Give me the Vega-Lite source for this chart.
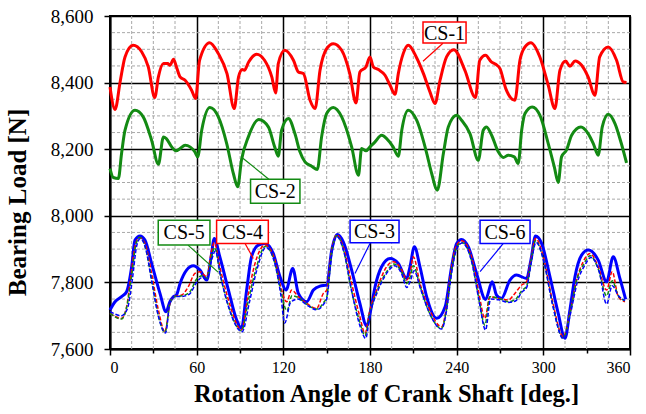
{
  "$schema": "https://vega.github.io/schema/vega-lite/v6.json",
  "width": 520,
  "height": 333,
  "autosize": "none",
  "padding": {"left": 110, "top": 16, "right": 16, "bottom": 65},
  "background": "white",
  "config": {
    "view": {"stroke": "black", "strokeWidth": 2},
    "font": "Liberation Serif"
  },
  "datasets": {
    "gridx": [{"g":15},{"g":30},{"g":45},{"g":75},{"g":90},{"g":105},{"g":135},{"g":150},{"g":165},{"g":195},{"g":210},{"g":225},{"g":255},{"g":270},{"g":285},{"g":315},{"g":330},{"g":345}],
    "gridy": [{"g":7650},{"g":7700},{"g":7750},{"g":7850},{"g":7900},{"g":7950},{"g":8050},{"g":8100},{"g":8150},{"g":8250},{"g":8300},{"g":8350},{"g":8450},{"g":8500},{"g":8550}],
    "curves": [
      {"s":"CS-1","x":0,"y":8387},{"s":"CS-1","x":3.5,"y":8319},{"s":"CS-1","x":7,"y":8402},{"s":"CS-1","x":10.4,"y":8477},{"s":"CS-1","x":16,"y":8512},{"s":"CS-1","x":22,"y":8492},{"s":"CS-1","x":26.5,"y":8447},{"s":"CS-1","x":31,"y":8355},{"s":"CS-1","x":33.5,"y":8417},{"s":"CS-1","x":37,"y":8457},{"s":"CS-1","x":40,"y":8457},{"s":"CS-1","x":41.5,"y":8452},{"s":"CS-1","x":44,"y":8470},{"s":"CS-1","x":46,"y":8447},{"s":"CS-1","x":48.5,"y":8417},{"s":"CS-1","x":52,"y":8407},{"s":"CS-1","x":56.5,"y":8377},{"s":"CS-1","x":59.3,"y":8352},{"s":"CS-1","x":62,"y":8467},{"s":"CS-1","x":69,"y":8520},{"s":"CS-1","x":75,"y":8487},{"s":"CS-1","x":81,"y":8427},{"s":"CS-1","x":86,"y":8322},{"s":"CS-1","x":89,"y":8417},{"s":"CS-1","x":91.6,"y":8439},{"s":"CS-1","x":93,"y":8437},{"s":"CS-1","x":96,"y":8462},{"s":"CS-1","x":101.5,"y":8485},{"s":"CS-1","x":107,"y":8467},{"s":"CS-1","x":112,"y":8417},{"s":"CS-1","x":114.7,"y":8369},{"s":"CS-1","x":116.5,"y":8457},{"s":"CS-1","x":121,"y":8497},{"s":"CS-1","x":127,"y":8467},{"s":"CS-1","x":130.4,"y":8432},{"s":"CS-1","x":133.9,"y":8427},{"s":"CS-1","x":138.5,"y":8347},{"s":"CS-1","x":142,"y":8322},{"s":"CS-1","x":145.4,"y":8437},{"s":"CS-1","x":150,"y":8502},{"s":"CS-1","x":154.6,"y":8517},{"s":"CS-1","x":160.4,"y":8497},{"s":"CS-1","x":166,"y":8427},{"s":"CS-1","x":170.3,"y":8339},{"s":"CS-1","x":173,"y":8432},{"s":"CS-1","x":177.2,"y":8447},{"s":"CS-1","x":180,"y":8477},{"s":"CS-1","x":182.3,"y":8447},{"s":"CS-1","x":185.8,"y":8439},{"s":"CS-1","x":190.4,"y":8422},{"s":"CS-1","x":193.9,"y":8392},{"s":"CS-1","x":197.3,"y":8365},{"s":"CS-1","x":199.6,"y":8427},{"s":"CS-1","x":203,"y":8487},{"s":"CS-1","x":206.5,"y":8512},{"s":"CS-1","x":212,"y":8477},{"s":"CS-1","x":217,"y":8427},{"s":"CS-1","x":221.5,"y":8372},{"s":"CS-1","x":225,"y":8337},{"s":"CS-1","x":228.5,"y":8407},{"s":"CS-1","x":233,"y":8477},{"s":"CS-1","x":238,"y":8499},{"s":"CS-1","x":245.7,"y":8437},{"s":"CS-1","x":253,"y":8355},{"s":"CS-1","x":256,"y":8467},{"s":"CS-1","x":260,"y":8482},{"s":"CS-1","x":264,"y":8462},{"s":"CS-1","x":267,"y":8455},{"s":"CS-1","x":270,"y":8442},{"s":"CS-1","x":274,"y":8382},{"s":"CS-1","x":280.3,"y":8347},{"s":"CS-1","x":283.8,"y":8467},{"s":"CS-1","x":287.3,"y":8507},{"s":"CS-1","x":291.4,"y":8520},{"s":"CS-1","x":297.6,"y":8477},{"s":"CS-1","x":303.4,"y":8392},{"s":"CS-1","x":308,"y":8322},{"s":"CS-1","x":311.5,"y":8437},{"s":"CS-1","x":315.4,"y":8465},{"s":"CS-1","x":318.4,"y":8449},{"s":"CS-1","x":322,"y":8465},{"s":"CS-1","x":326.5,"y":8452},{"s":"CS-1","x":331,"y":8417},{"s":"CS-1","x":335.7,"y":8362},{"s":"CS-1","x":339,"y":8477},{"s":"CS-1","x":345,"y":8507},{"s":"CS-1","x":350.7,"y":8467},{"s":"CS-1","x":355.3,"y":8402},{"s":"CS-1","x":357.6,"y":8400},

      {"s":"CS-2","x":0,"y":8142},{"s":"CS-2","x":2.3,"y":8115},{"s":"CS-2","x":5.8,"y":8112},{"s":"CS-2","x":8,"y":8187},{"s":"CS-2","x":10.4,"y":8257},{"s":"CS-2","x":17.3,"y":8317},{"s":"CS-2","x":23,"y":8297},{"s":"CS-2","x":28.8,"y":8227},{"s":"CS-2","x":33.5,"y":8155},{"s":"CS-2","x":37,"y":8237},{"s":"CS-2","x":39,"y":8232},{"s":"CS-2","x":42.7,"y":8207},{"s":"CS-2","x":45.7,"y":8195},{"s":"CS-2","x":48.5,"y":8202},{"s":"CS-2","x":52,"y":8212},{"s":"CS-2","x":55.4,"y":8207},{"s":"CS-2","x":58.8,"y":8192},{"s":"CS-2","x":60.7,"y":8177},{"s":"CS-2","x":63.5,"y":8257},{"s":"CS-2","x":69.2,"y":8325},{"s":"CS-2","x":75,"y":8297},{"s":"CS-2","x":80.8,"y":8217},{"s":"CS-2","x":85.4,"y":8127},{"s":"CS-2","x":88.4,"y":8087},{"s":"CS-2","x":91,"y":8167},{"s":"CS-2","x":95.8,"y":8237},{"s":"CS-2","x":103,"y":8289},{"s":"CS-2","x":109.6,"y":8267},{"s":"CS-2","x":114,"y":8207},{"s":"CS-2","x":116.5,"y":8179},{"s":"CS-2","x":118.8,"y":8257},{"s":"CS-2","x":123.5,"y":8292},{"s":"CS-2","x":128,"y":8247},{"s":"CS-2","x":131.5,"y":8192},{"s":"CS-2","x":135,"y":8162},{"s":"CS-2","x":139.6,"y":8149},{"s":"CS-2","x":143.5,"y":8139},{"s":"CS-2","x":146.5,"y":8237},{"s":"CS-2","x":150,"y":8307},{"s":"CS-2","x":154.6,"y":8325},{"s":"CS-2","x":160.4,"y":8297},{"s":"CS-2","x":167.3,"y":8207},{"s":"CS-2","x":172,"y":8122},{"s":"CS-2","x":174.2,"y":8202},{"s":"CS-2","x":177.2,"y":8195},{"s":"CS-2","x":180,"y":8207},{"s":"CS-2","x":183.5,"y":8222},{"s":"CS-2","x":188,"y":8242},{"s":"CS-2","x":191.5,"y":8232},{"s":"CS-2","x":196,"y":8207},{"s":"CS-2","x":199.6,"y":8179},{"s":"CS-2","x":202,"y":8257},{"s":"CS-2","x":206.5,"y":8317},{"s":"CS-2","x":212.3,"y":8287},{"s":"CS-2","x":219.3,"y":8187},{"s":"CS-2","x":222.7,"y":8127},{"s":"CS-2","x":226.6,"y":8077},{"s":"CS-2","x":230.8,"y":8187},{"s":"CS-2","x":234.2,"y":8267},{"s":"CS-2","x":240,"y":8302},{"s":"CS-2","x":243.4,"y":8287},{"s":"CS-2","x":249.2,"y":8247},{"s":"CS-2","x":255,"y":8167},{"s":"CS-2","x":258.4,"y":8257},{"s":"CS-2","x":260.7,"y":8267},{"s":"CS-2","x":264.2,"y":8242},{"s":"CS-2","x":268.8,"y":8192},{"s":"CS-2","x":272.3,"y":8175},{"s":"CS-2","x":275.7,"y":8182},{"s":"CS-2","x":279.9,"y":8177},{"s":"CS-2","x":282.6,"y":8157},{"s":"CS-2","x":285,"y":8257},{"s":"CS-2","x":287.3,"y":8307},{"s":"CS-2","x":292.3,"y":8327},{"s":"CS-2","x":297.6,"y":8302},{"s":"CS-2","x":303.4,"y":8217},{"s":"CS-2","x":307.6,"y":8147},{"s":"CS-2","x":310.3,"y":8100},{"s":"CS-2","x":312.6,"y":8177},{"s":"CS-2","x":316,"y":8197},{"s":"CS-2","x":319.6,"y":8242},{"s":"CS-2","x":326,"y":8267},{"s":"CS-2","x":331,"y":8247},{"s":"CS-2","x":334.6,"y":8217},{"s":"CS-2","x":338,"y":8182},{"s":"CS-2","x":340.8,"y":8267},{"s":"CS-2","x":345,"y":8305},{"s":"CS-2","x":349.6,"y":8277},{"s":"CS-2","x":354,"y":8217},{"s":"CS-2","x":357.6,"y":8159},

      {"s":"CS-3","x":0,"y":7717},{"s":"CS-3","x":3.5,"y":7742},{"s":"CS-3","x":8,"y":7757},{"s":"CS-3","x":11.5,"y":7772},{"s":"CS-3","x":15,"y":7847},{"s":"CS-3","x":17.3,"y":7927},{"s":"CS-3","x":20.8,"y":7939},{"s":"CS-3","x":24.2,"y":7927},{"s":"CS-3","x":28.8,"y":7857},{"s":"CS-3","x":34.6,"y":7767},{"s":"CS-3","x":38.8,"y":7712},{"s":"CS-3","x":41.5,"y":7742},{"s":"CS-3","x":43.8,"y":7757},{"s":"CS-3","x":46,"y":7762},{"s":"CS-3","x":48.5,"y":7797},{"s":"CS-3","x":53,"y":7837},{"s":"CS-3","x":57.7,"y":7850},{"s":"CS-3","x":62.3,"y":7837},{"s":"CS-3","x":67,"y":7807},{"s":"CS-3","x":70,"y":7877},{"s":"CS-3","x":72.2,"y":7932},{"s":"CS-3","x":76,"y":7877},{"s":"CS-3","x":82,"y":7777},{"s":"CS-3","x":87.7,"y":7687},{"s":"CS-3","x":91,"y":7662},{"s":"CS-3","x":94.6,"y":7777},{"s":"CS-3","x":98,"y":7877},{"s":"CS-3","x":102.7,"y":7912},{"s":"CS-3","x":107.3,"y":7917},{"s":"CS-3","x":113,"y":7887},{"s":"CS-3","x":117.7,"y":7817},{"s":"CS-3","x":121.9,"y":7777},{"s":"CS-3","x":126.5,"y":7842},{"s":"CS-3","x":130.4,"y":7767},{"s":"CS-3","x":136.2,"y":7742},{"s":"CS-3","x":140.8,"y":7777},{"s":"CS-3","x":145.4,"y":7789},{"s":"CS-3","x":150,"y":7792},{"s":"CS-3","x":153.5,"y":7897},{"s":"CS-3","x":157.4,"y":7944},{"s":"CS-3","x":161.5,"y":7922},{"s":"CS-3","x":167.3,"y":7837},{"s":"CS-3","x":173,"y":7737},{"s":"CS-3","x":177.7,"y":7669},{"s":"CS-3","x":180.5,"y":7717},{"s":"CS-3","x":183.5,"y":7787},{"s":"CS-3","x":188,"y":7847},{"s":"CS-3","x":193.9,"y":7872},{"s":"CS-3","x":199.6,"y":7857},{"s":"CS-3","x":205.4,"y":7812},{"s":"CS-3","x":207.7,"y":7847},{"s":"CS-3","x":210.7,"y":7907},{"s":"CS-3","x":214.6,"y":7847},{"s":"CS-3","x":219.2,"y":7757},{"s":"CS-3","x":226.2,"y":7692},{"s":"CS-3","x":232,"y":7727},{"s":"CS-3","x":236.5,"y":7847},{"s":"CS-3","x":240,"y":7917},{"s":"CS-3","x":243.4,"y":7929},{"s":"CS-3","x":248,"y":7907},{"s":"CS-3","x":253.8,"y":7827},{"s":"CS-3","x":260,"y":7749},{"s":"CS-3","x":264.6,"y":7802},{"s":"CS-3","x":267.6,"y":7762},{"s":"CS-3","x":271,"y":7752},{"s":"CS-3","x":276.9,"y":7807},{"s":"CS-3","x":281.5,"y":7822},{"s":"CS-3","x":288.4,"y":7812},{"s":"CS-3","x":291.4,"y":7867},{"s":"CS-3","x":294.6,"y":7939},{"s":"CS-3","x":298.8,"y":7917},{"s":"CS-3","x":304.6,"y":7817},{"s":"CS-3","x":310.3,"y":7707},{"s":"CS-3","x":315,"y":7632},{"s":"CS-3","x":318.4,"y":7717},{"s":"CS-3","x":321.9,"y":7817},{"s":"CS-3","x":326.5,"y":7882},{"s":"CS-3","x":331.1,"y":7897},{"s":"CS-3","x":338,"y":7867},{"s":"CS-3","x":343.8,"y":7802},{"s":"CS-3","x":348.4,"y":7877},{"s":"CS-3","x":353,"y":7812},{"s":"CS-3","x":357,"y":7749},

      {"s":"CS-4","x":0,"y":7707},{"s":"CS-4","x":8,"y":7692},{"s":"CS-4","x":11.5,"y":7727},{"s":"CS-4","x":13.8,"y":7797},{"s":"CS-4","x":17.3,"y":7907},{"s":"CS-4","x":20.3,"y":7935},{"s":"CS-4","x":24.2,"y":7917},{"s":"CS-4","x":28.8,"y":7827},{"s":"CS-4","x":33.5,"y":7717},{"s":"CS-4","x":38,"y":7652},{"s":"CS-4","x":41.5,"y":7737},{"s":"CS-4","x":43.8,"y":7757},{"s":"CS-4","x":49.6,"y":7762},{"s":"CS-4","x":54.2,"y":7787},{"s":"CS-4","x":58.8,"y":7827},{"s":"CS-4","x":62.3,"y":7832},{"s":"CS-4","x":67,"y":7817},{"s":"CS-4","x":70.4,"y":7897},{"s":"CS-4","x":72.2,"y":7919},{"s":"CS-4","x":76,"y":7847},{"s":"CS-4","x":82,"y":7747},{"s":"CS-4","x":91,"y":7657},{"s":"CS-4","x":95.8,"y":7767},{"s":"CS-4","x":100.4,"y":7857},{"s":"CS-4","x":107.3,"y":7912},{"s":"CS-4","x":114.2,"y":7867},{"s":"CS-4","x":118,"y":7790},{"s":"CS-4","x":122.3,"y":7742},{"s":"CS-4","x":125.8,"y":7777},{"s":"CS-4","x":130.4,"y":7757},{"s":"CS-4","x":136.2,"y":7737},{"s":"CS-4","x":143,"y":7722},{"s":"CS-4","x":147.7,"y":7767},{"s":"CS-4","x":150,"y":7777},{"s":"CS-4","x":153.5,"y":7897},{"s":"CS-4","x":157,"y":7942},{"s":"CS-4","x":161.5,"y":7907},{"s":"CS-4","x":167.3,"y":7797},{"s":"CS-4","x":173,"y":7697},{"s":"CS-4","x":176.5,"y":7647},{"s":"CS-4","x":180,"y":7717},{"s":"CS-4","x":184.6,"y":7777},{"s":"CS-4","x":191.5,"y":7847},{"s":"CS-4","x":196.2,"y":7862},{"s":"CS-4","x":202,"y":7837},{"s":"CS-4","x":205.4,"y":7807},{"s":"CS-4","x":207.7,"y":7827},{"s":"CS-4","x":210,"y":7877},{"s":"CS-4","x":214.6,"y":7797},{"s":"CS-4","x":220.4,"y":7727},{"s":"CS-4","x":229.6,"y":7667},{"s":"CS-4","x":233,"y":7727},{"s":"CS-4","x":236.5,"y":7847},{"s":"CS-4","x":240,"y":7912},{"s":"CS-4","x":243.4,"y":7925},{"s":"CS-4","x":250.3,"y":7877},{"s":"CS-4","x":255,"y":7777},{"s":"CS-4","x":259.6,"y":7692},{"s":"CS-4","x":263,"y":7757},{"s":"CS-4","x":268.8,"y":7752},{"s":"CS-4","x":275.7,"y":7747},{"s":"CS-4","x":280.3,"y":7767},{"s":"CS-4","x":285,"y":7792},{"s":"CS-4","x":288.4,"y":7802},{"s":"CS-4","x":291.4,"y":7867},{"s":"CS-4","x":294.6,"y":7932},{"s":"CS-4","x":300,"y":7877},{"s":"CS-4","x":305.7,"y":7757},{"s":"CS-4","x":313.8,"y":7637},{"s":"CS-4","x":318.4,"y":7707},{"s":"CS-4","x":323,"y":7807},{"s":"CS-4","x":327.6,"y":7862},{"s":"CS-4","x":332.3,"y":7887},{"s":"CS-4","x":338,"y":7847},{"s":"CS-4","x":343.8,"y":7777},{"s":"CS-4","x":347.7,"y":7832},{"s":"CS-4","x":351.9,"y":7757},{"s":"CS-4","x":356.5,"y":7742},

      {"s":"CS-5","x":0,"y":7707},{"s":"CS-5","x":8,"y":7690},{"s":"CS-5","x":11.5,"y":7725},{"s":"CS-5","x":15,"y":7820},{"s":"CS-5","x":18,"y":7915},{"s":"CS-5","x":20.5,"y":7935},{"s":"CS-5","x":24,"y":7912},{"s":"CS-5","x":28.8,"y":7810},{"s":"CS-5","x":33.5,"y":7700},{"s":"CS-5","x":38,"y":7650},{"s":"CS-5","x":41.5,"y":7737},{"s":"CS-5","x":44,"y":7757},{"s":"CS-5","x":50,"y":7760},{"s":"CS-5","x":55,"y":7770},{"s":"CS-5","x":60,"y":7810},{"s":"CS-5","x":64,"y":7820},{"s":"CS-5","x":67,"y":7812},{"s":"CS-5","x":70.4,"y":7880},{"s":"CS-5","x":72.5,"y":7905},{"s":"CS-5","x":76,"y":7830},{"s":"CS-5","x":82,"y":7730},{"s":"CS-5","x":91,"y":7655},{"s":"CS-5","x":96,"y":7750},{"s":"CS-5","x":101,"y":7840},{"s":"CS-5","x":107.5,"y":7908},{"s":"CS-5","x":114,"y":7860},{"s":"CS-5","x":118,"y":7780},{"s":"CS-5","x":122.5,"y":7715},{"s":"CS-5","x":126,"y":7760},{"s":"CS-5","x":130,"y":7755},{"s":"CS-5","x":136,"y":7735},{"s":"CS-5","x":143,"y":7720},{"s":"CS-5","x":148,"y":7740},{"s":"CS-5","x":150,"y":7755},{"s":"CS-5","x":153.5,"y":7890},{"s":"CS-5","x":157,"y":7940},{"s":"CS-5","x":161.5,"y":7900},{"s":"CS-5","x":167,"y":7780},{"s":"CS-5","x":173,"y":7680},{"s":"CS-5","x":176.5,"y":7640},{"s":"CS-5","x":180,"y":7710},{"s":"CS-5","x":185,"y":7775},{"s":"CS-5","x":192,"y":7835},{"s":"CS-5","x":196.5,"y":7855},{"s":"CS-5","x":202,"y":7830},{"s":"CS-5","x":205.5,"y":7797},{"s":"CS-5","x":207.7,"y":7815},{"s":"CS-5","x":210,"y":7850},{"s":"CS-5","x":214.6,"y":7790},{"s":"CS-5","x":220,"y":7720},{"s":"CS-5","x":229.6,"y":7662},{"s":"CS-5","x":233,"y":7720},{"s":"CS-5","x":236.5,"y":7835},{"s":"CS-5","x":240,"y":7905},{"s":"CS-5","x":243.5,"y":7920},{"s":"CS-5","x":250,"y":7870},{"s":"CS-5","x":255,"y":7760},{"s":"CS-5","x":259.6,"y":7672},{"s":"CS-5","x":263,"y":7757},{"s":"CS-5","x":269,"y":7752},{"s":"CS-5","x":276,"y":7742},{"s":"CS-5","x":281,"y":7750},{"s":"CS-5","x":285,"y":7775},{"s":"CS-5","x":288.5,"y":7790},{"s":"CS-5","x":291.4,"y":7860},{"s":"CS-5","x":294.6,"y":7925},{"s":"CS-5","x":300,"y":7870},{"s":"CS-5","x":305.7,"y":7750},{"s":"CS-5","x":313.8,"y":7632},{"s":"CS-5","x":318.4,"y":7705},{"s":"CS-5","x":323,"y":7805},{"s":"CS-5","x":328,"y":7855},{"s":"CS-5","x":332.5,"y":7880},{"s":"CS-5","x":338,"y":7840},{"s":"CS-5","x":343.8,"y":7760},{"s":"CS-5","x":347.7,"y":7805},{"s":"CS-5","x":351.9,"y":7760},{"s":"CS-5","x":356.5,"y":7745},

      {"s":"CS-6","x":0,"y":7712},{"s":"CS-6","x":8,"y":7700},{"s":"CS-6","x":12,"y":7720},{"s":"CS-6","x":15.5,"y":7810},{"s":"CS-6","x":18.5,"y":7910},{"s":"CS-6","x":21,"y":7932},{"s":"CS-6","x":24.5,"y":7905},{"s":"CS-6","x":29,"y":7800},{"s":"CS-6","x":34,"y":7690},{"s":"CS-6","x":38.5,"y":7648},{"s":"CS-6","x":41.5,"y":7740},{"s":"CS-6","x":44,"y":7757},{"s":"CS-6","x":50,"y":7758},{"s":"CS-6","x":55,"y":7765},{"s":"CS-6","x":60,"y":7800},{"s":"CS-6","x":64,"y":7815},{"s":"CS-6","x":67,"y":7810},{"s":"CS-6","x":70.5,"y":7870},{"s":"CS-6","x":73,"y":7895},{"s":"CS-6","x":76.5,"y":7820},{"s":"CS-6","x":82.5,"y":7720},{"s":"CS-6","x":91.5,"y":7652},{"s":"CS-6","x":96.5,"y":7740},{"s":"CS-6","x":101.5,"y":7835},{"s":"CS-6","x":108,"y":7905},{"s":"CS-6","x":114.5,"y":7850},{"s":"CS-6","x":118,"y":7770},{"s":"CS-6","x":121,"y":7678},{"s":"CS-6","x":125,"y":7740},{"s":"CS-6","x":130,"y":7750},{"s":"CS-6","x":136,"y":7733},{"s":"CS-6","x":143,"y":7718},{"s":"CS-6","x":148,"y":7735},{"s":"CS-6","x":150,"y":7750},{"s":"CS-6","x":153.5,"y":7885},{"s":"CS-6","x":157,"y":7938},{"s":"CS-6","x":162,"y":7890},{"s":"CS-6","x":167.5,"y":7770},{"s":"CS-6","x":173,"y":7670},{"s":"CS-6","x":177,"y":7632},{"s":"CS-6","x":180,"y":7705},{"s":"CS-6","x":185,"y":7770},{"s":"CS-6","x":192,"y":7830},{"s":"CS-6","x":197,"y":7850},{"s":"CS-6","x":202,"y":7825},{"s":"CS-6","x":205.4,"y":7785},{"s":"CS-6","x":208,"y":7805},{"s":"CS-6","x":210.5,"y":7835},{"s":"CS-6","x":215,"y":7780},{"s":"CS-6","x":220.5,"y":7715},{"s":"CS-6","x":229.6,"y":7660},{"s":"CS-6","x":233,"y":7715},{"s":"CS-6","x":236.5,"y":7830},{"s":"CS-6","x":240,"y":7900},{"s":"CS-6","x":243.8,"y":7918},{"s":"CS-6","x":250.5,"y":7860},{"s":"CS-6","x":255.5,"y":7745},{"s":"CS-6","x":260,"y":7657},{"s":"CS-6","x":263.5,"y":7750},{"s":"CS-6","x":269,"y":7748},{"s":"CS-6","x":276,"y":7740},{"s":"CS-6","x":281,"y":7745},{"s":"CS-6","x":285,"y":7770},{"s":"CS-6","x":288.5,"y":7785},{"s":"CS-6","x":291.4,"y":7855},{"s":"CS-6","x":295,"y":7920},{"s":"CS-6","x":300.5,"y":7860},{"s":"CS-6","x":306,"y":7740},{"s":"CS-6","x":314,"y":7630},{"s":"CS-6","x":318.5,"y":7700},{"s":"CS-6","x":323.5,"y":7800},{"s":"CS-6","x":328.5,"y":7850},{"s":"CS-6","x":333,"y":7875},{"s":"CS-6","x":338.5,"y":7835},{"s":"CS-6","x":343.8,"y":7735},{"s":"CS-6","x":347.7,"y":7790},{"s":"CS-6","x":352,"y":7760},{"s":"CS-6","x":356.5,"y":7745}
    ],
    "leaders": [
      {"s":"CS-1","x":230.5,"y":8518,"x2":216.7,"y2":8464},
      {"s":"CS-2","x":92,"y":8173,"x2":110.8,"y2":8107},
      {"s":"CS-5","x":54,"y":7912,"x2":74.8,"y2":7831},
      {"s":"CS-4","x":93.5,"y":7917,"x2":99.2,"y2":7872},
      {"s":"CS-3","x":180,"y":7917,"x2":169.6,"y2":7827},
      {"s":"CS-6","x":272.3,"y":7917,"x2":256.2,"y2":7832}
    ],
    "boxes": [
      {"s":"CS-1","x":216.7,"x2":246.5,"y":8582,"y2":8519,"tx":231.6,"ty":8550},
      {"s":"CS-2","x":97.3,"x2":131.5,"y":8110,"y2":8038,"tx":114.4,"ty":8074},
      {"s":"CS-5","x":33.4,"x2":69.2,"y":7987,"y2":7912,"tx":51.3,"ty":7950},
      {"s":"CS-4","x":73.8,"x2":109.6,"y":7987,"y2":7917,"tx":91.7,"ty":7952},
      {"s":"CS-3","x":166.2,"x2":200.1,"y":7987,"y2":7919,"tx":183.1,"ty":7953},
      {"s":"CS-6","x":256.2,"x2":290.8,"y":7987,"y2":7917,"tx":273.5,"ty":7952}
    ]
  },
  "layer": [
    {
      "data": {"name": "gridx"},
      "mark": {"type": "rule", "color": "#a8a8a8", "strokeWidth": 1, "strokeDash": [3, 2]},
      "encoding": {
        "x": {
          "field": "g", "type": "quantitative",
          "scale": {"domain": [0, 360], "nice": false, "zero": false},
          "axis": {
            "values": [0,15,30,45,60,75,90,105,120,135,150,165,180,195,210,225,240,255,270,285,300,315,330,345,360],
            "labelExpr": "datum.value % 60 === 0 ? datum.label : ''",
            "labelOverlap": false,
            "labelFont": "Liberation Serif", "labelFontSize": 16, "labelColor": "black", "labelPadding": 4,
            "grid": true,
            "gridColor": "#000000",
            "gridWidth": 1.5,
            "gridOpacity": {"condition": {"test": "datum.value % 60 === 0", "value": 1}, "value": 0},
            "tickColor": "black", "tickWidth": 1.5,
            "tickSize": {"condition": {"test": "datum.value % 60 === 0", "value": 6}, "value": 4},
            "domainColor": "black", "domainWidth": 2,
            "title": "Rotation Angle of Crank Shaft [deg.]",
            "titleFont": "Liberation Serif", "titleFontSize": 24.5, "titleFontWeight": "bold", "titleColor": "black", "titlePadding": 7,
            "titleX": 276
          }
        }
      }
    },
    {
      "data": {"name": "gridy"},
      "mark": {"type": "rule", "color": "#a8a8a8", "strokeWidth": 1, "strokeDash": [3, 2]},
      "encoding": {
        "y": {
          "field": "g", "type": "quantitative",
          "scale": {"domain": [7600, 8600], "nice": false, "zero": false},
          "axis": {
            "values": [7600,7650,7700,7750,7800,7850,7900,7950,8000,8050,8100,8150,8200,8250,8300,8350,8400,8450,8500,8550,8600],
            "format": ",d",
            "labelExpr": "datum.value % 200 === 0 ? datum.label : ''",
            "labelOverlap": false,
            "labelFont": "Liberation Serif", "labelFontSize": 19, "labelColor": "black", "labelPadding": 11,
            "grid": true,
            "gridColor": "#000000",
            "gridWidth": 1.5,
            "gridOpacity": {"condition": {"test": "datum.value % 200 === 0", "value": 1}, "value": 0},
            "tickColor": "black", "tickWidth": 1.5,
            "tickSize": {"condition": {"test": "datum.value % 200 === 0", "value": 6}, "value": 4},
            "domainColor": "black", "domainWidth": 2,
            "title": "Bearing Load [N]",
            "titleFont": "Liberation Serif", "titleFontSize": 25, "titleFontWeight": "bold", "titleColor": "black", "titlePadding": 20,
            "titleY": 186
          }
        }
      }
    },
    {
      "data": {"name": "curves"},
      "transform": [{"filter": "datum.s === 'CS-1' || datum.s === 'CS-2' || datum.s === 'CS-3'"}],
      "mark": {"type": "line", "interpolate": "monotone", "strokeWidth": 3, "strokeJoin": "round"},
      "encoding": {
        "x": {"field": "x", "type": "quantitative"},
        "y": {"field": "y", "type": "quantitative"},
        "color": {
          "field": "s", "type": "nominal",
          "scale": {"domain": ["CS-1","CS-2","CS-3","CS-4","CS-5","CS-6"], "range": ["#ff0000","#138a13","#0000ff","#ff0000","#138a13","#0000ff"]},
          "legend": null
        }
      }
    },
    {
      "data": {"name": "curves"},
      "transform": [{"filter": "datum.s === 'CS-4' || datum.s === 'CS-5' || datum.s === 'CS-6'"}],
      "mark": {"type": "line", "interpolate": "monotone", "strokeWidth": 1.5, "strokeDash": [4, 2]},
      "encoding": {
        "x": {"field": "x", "type": "quantitative"},
        "y": {"field": "y", "type": "quantitative"},
        "color": {"field": "s", "type": "nominal", "legend": null}
      }
    },
    {
      "data": {"name": "leaders"},
      "mark": {"type": "rule", "strokeWidth": 1.2},
      "encoding": {
        "x": {"field": "x", "type": "quantitative"},
        "y": {"field": "y", "type": "quantitative"},
        "x2": {"field": "x2"},
        "y2": {"field": "y2"},
        "color": {"field": "s", "type": "nominal", "legend": null}
      }
    },
    {
      "data": {"name": "boxes"},
      "mark": {"type": "rect", "fill": "white", "strokeWidth": 1.5},
      "encoding": {
        "x": {"field": "x", "type": "quantitative"},
        "x2": {"field": "x2"},
        "y": {"field": "y", "type": "quantitative"},
        "y2": {"field": "y2"},
        "stroke": {
          "field": "s", "type": "nominal",
          "scale": {"domain": ["CS-1","CS-2","CS-3","CS-4","CS-5","CS-6"], "range": ["#ff0000","#138a13","#0000ff","#ff0000","#138a13","#0000ff"]},
          "legend": null
        },
        "strokeDash": {
          "field": "s", "type": "nominal",
          "scale": {"domain": ["CS-1","CS-2","CS-3","CS-4","CS-5","CS-6"], "range": [[1,0],[1,0],[1,0],[3,2],[3,2],[3,2]]},
          "legend": null
        }
      }
    },
    {
      "data": {"name": "boxes"},
      "mark": {"type": "text", "font": "Liberation Serif", "fontSize": 20, "color": "black", "align": "center", "baseline": "middle", "dy": 1},
      "encoding": {
        "x": {"field": "tx", "type": "quantitative"},
        "y": {"field": "ty", "type": "quantitative"},
        "text": {"field": "s"}
      }
    }
  ]
}
